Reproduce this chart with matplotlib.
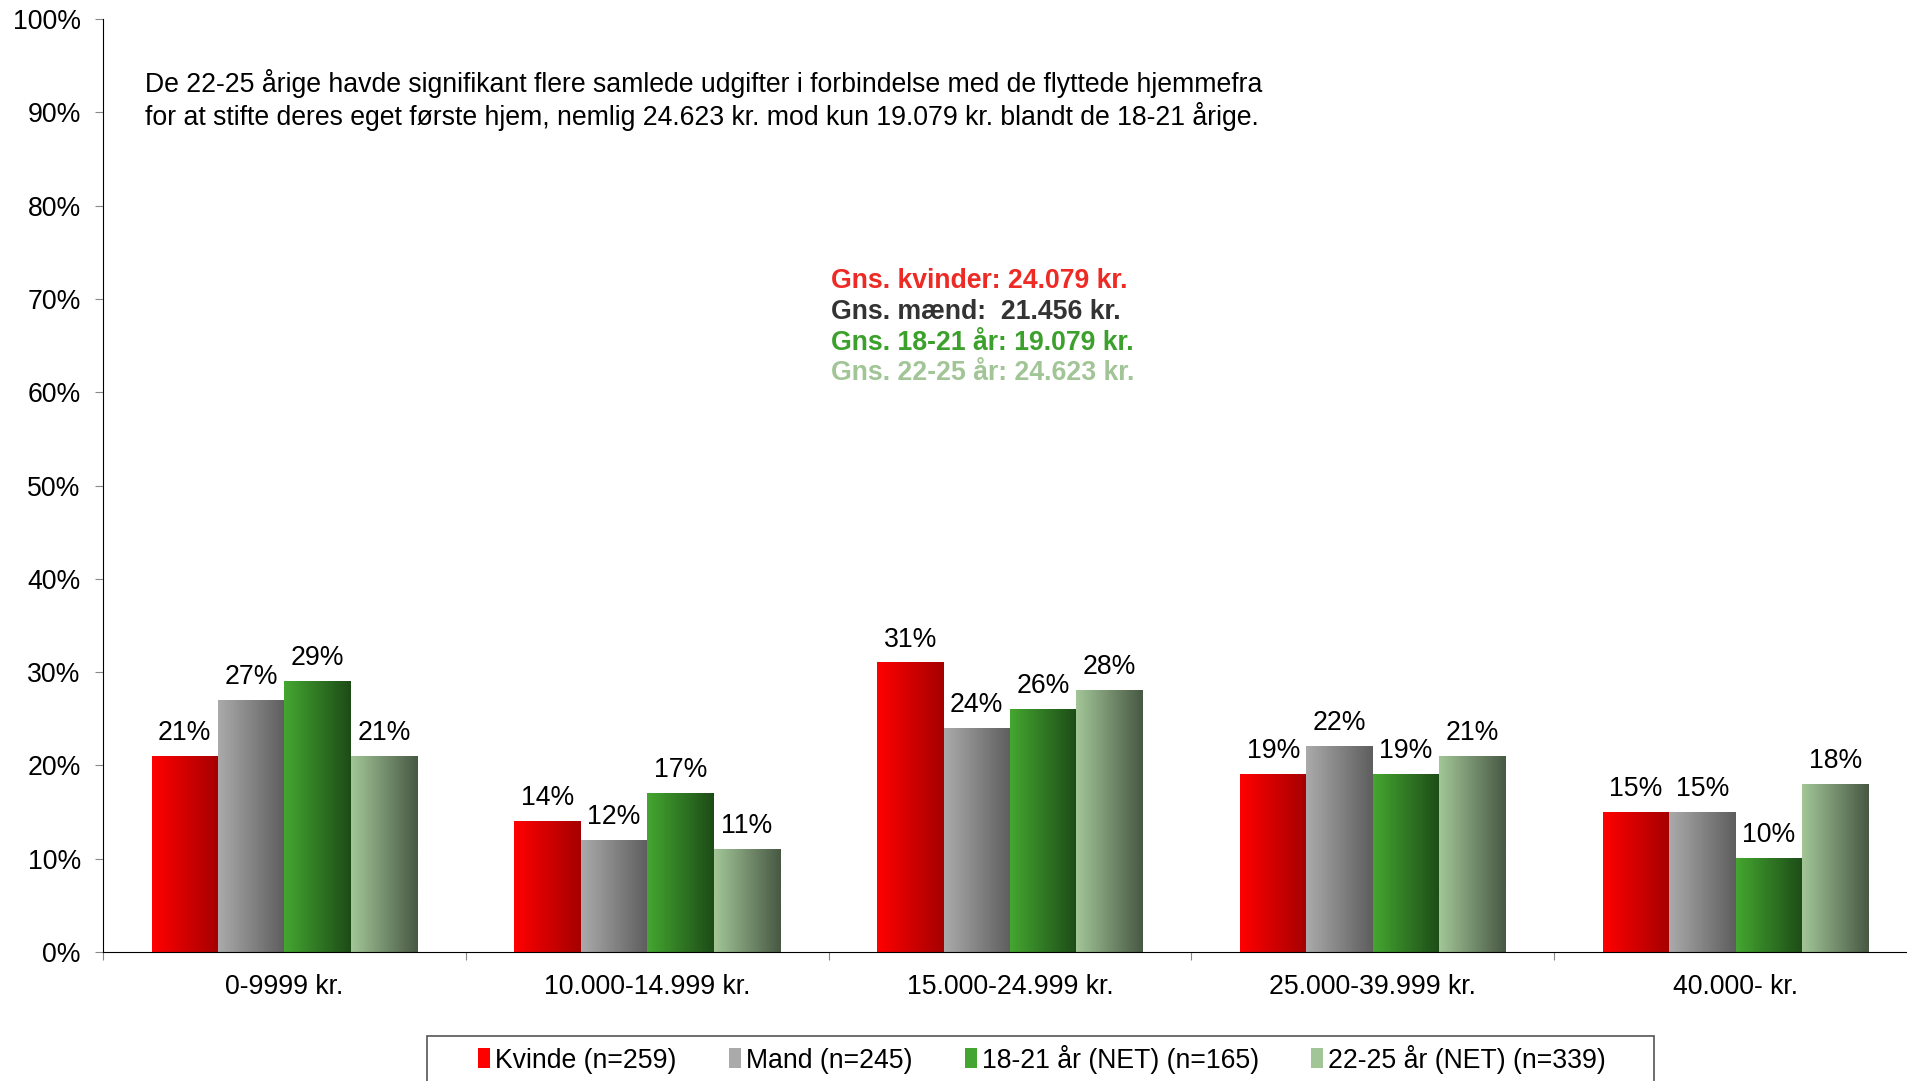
import numpy as np
import matplotlib.pyplot as plt
from matplotlib.colors import LinearSegmentedColormap
from matplotlib.patches import Patch, Rectangle

plt.rcParams['font.family'] = ['Liberation Sans', 'DejaVu Sans']

# Data
categories = ['0-9999 kr.', '10.000-14.999 kr.', '15.000-24.999 kr.', '25.000-39.999 kr.', '40.000- kr.']
kvinde = [21, 14, 31, 19, 15]
mand = [27, 12, 24, 22, 15]
aar_18_21 = [29, 17, 26, 19, 10]
aar_22_25 = [21, 11, 28, 21, 18]
series = [kvinde, mand, aar_18_21, aar_22_25]
series_names = ['Kvinde (n=259)', 'Mand (n=245)', '18-21 år (NET) (n=165)', '22-25 år (NET) (n=339)']

# Gradient colours (light left -> dark right)
grads = [('#ff0000', '#a50000'), ('#aaaaaa', '#5e5e5e'),
         ('#44a630', '#1d4c17'), ('#a2c597', '#485944')]

FS = 19.2

fig = plt.figure(figsize=(19.07, 10.81), dpi=100)
ax = fig.add_axes([103 / 1907, 1 - 952 / 1081, 1814 / 1907, (952 - 19) / 1081])

x = np.arange(len(categories))
w = 0.183
grad = np.linspace(0, 1, 64).reshape(1, -1)
for i, vals in enumerate(series):
    cmap = LinearSegmentedColormap.from_list('g%d' % i, grads[i])
    offs = (i - 1.5) * w
    bars = ax.bar(x + offs, vals, w, color='none', edgecolor='none')
    for b, v in zip(bars, vals):
        x0 = b.get_x()
        ax.imshow(grad, cmap=cmap, extent=(x0, x0 + w, 0, v), aspect='auto', zorder=2)
        ax.text(x0 + w / 2, v + 1.1, '%d%%' % v, ha='center', va='bottom', fontsize=FS)

ax.set_xlim(-0.5, len(categories) - 0.5)
ax.set_ylim(0, 100)
ax.set_yticks(range(0, 101, 10))
ax.set_yticklabels(['%d%%' % t for t in range(0, 101, 10)], fontsize=FS)
ax.set_xticks(np.arange(-0.5, len(categories), 1))
ax.set_xticklabels([])
ax.set_xticks(x, minor=True)
ax.set_xticklabels(categories, minor=True, fontsize=FS)
ax.tick_params(axis='x', which='minor', length=0, pad=16)
ax.tick_params(axis='x', which='major', length=6, color='#888888')
ax.tick_params(axis='y', length=6, color='#888888', pad=10)
for s in ['top', 'right']:
    ax.spines[s].set_visible(False)

fig.text(145 / 1907, 1 - 100 / 1081,
         'De 22-25 årige havde signifikant flere samlede udgifter i forbindelse med de flyttede hjemmefra\n'
         'for at stifte deres eget første hjem, nemlig 24.623 kr. mod kun 19.079 kr. blandt de 18-21 årige.',
         fontsize=FS, va='center', linespacing=1.2)

gns = ['Gns. kvinder: 24.079 kr.', 'Gns. mænd:  21.456 kr.', 'Gns. 18-21 år: 19.079 kr.', 'Gns. 22-25 år: 24.623 kr.']
gns_colors = ['#ee2a24', '#333333', '#3ca02c', '#a2c597']
for k, (t, c) in enumerate(zip(gns, gns_colors)):
    fig.text(831 / 1907, 1 - (281 + 30.8 * k) / 1081, t, color=c, fontsize=FS,
             fontweight='bold', va='center')

# legend box (cut off at the bottom edge like the original)
fig.patches.append(Rectangle((427 / 1907, -0.05), (1654 - 427) / 1907, 0.05 + 45 / 1081,
                             transform=fig.transFigure, facecolor='white',
                             edgecolor='#555555', linewidth=1.2))
handles = [Patch(facecolor=g[0], edgecolor='none') for g in grads]
leg = fig.legend(handles, series_names, loc='center', ncol=4,
                 bbox_to_anchor=(1042 / 1907, 1 - 1059 / 1081), fontsize=FS, frameon=False,
                 handlelength=0.45, handleheight=0.8, handletextpad=0.2,
                 columnspacing=1.95, borderpad=0, borderaxespad=0)

fig.savefig('out.png', dpi=100)
